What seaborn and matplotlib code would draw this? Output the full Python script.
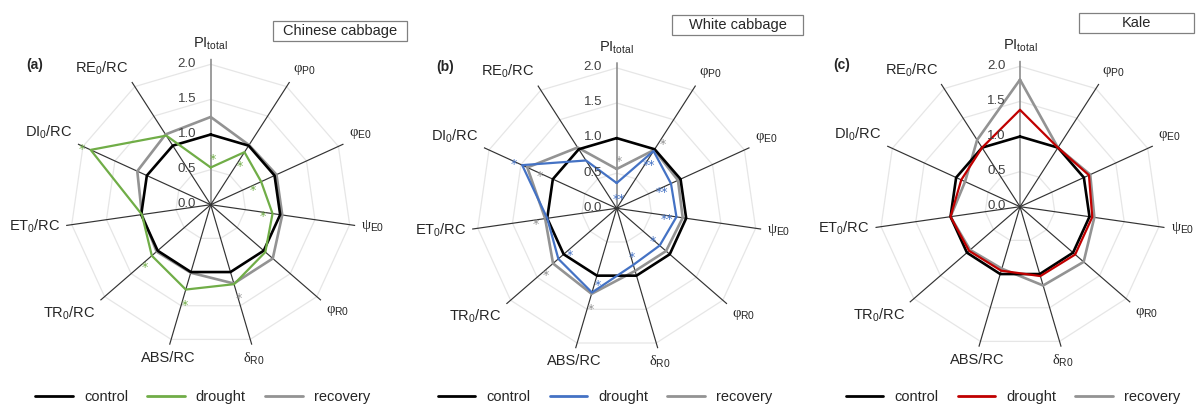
import numpy as np
import pandas as pd
import matplotlib
matplotlib.use("Agg")
import matplotlib.pyplot as plt
from matplotlib.lines import Line2D
from matplotlib.patches import Rectangle
import seaborn as sns

# ---------------------------------------------------------------- data
PARAMS = [r"PI$_{\mathrm{total}}$", r"$\varphi_{\mathrm{P0}}$", r"$\varphi_{\mathrm{E0}}$",
          r"$\psi_{\mathrm{E0}}$", r"$\varphi_{\mathrm{R0}}$", r"$\delta_{\mathrm{R0}}$",
          "ABS/RC", r"TR$_{\mathrm{0}}$/RC", r"ET$_{\mathrm{0}}$/RC",
          r"DI$_{\mathrm{0}}$/RC", r"RE$_{\mathrm{0}}$/RC"]
RADIAL_TICKS = [0.0, 0.5, 1.0, 1.5, 2.0]
SERIES = ["control", "drought", "recovery"]
CROPS = ["Chinese cabbage", "White cabbage", "Kale"]
PANEL_TAGS = ["(a)", "(b)", "(c)"]

control = [1.0, 1.0, 1.0, 1.0, 1.0, 1.0, 1.0, 1.0, 1.0, 1.0, 1.0]

chinese_drought = [0.53, 0.89, 0.79, 0.89, 1.03, 1.18, 1.26, 1.11, 0.99, 1.88, 1.17]
chinese_recovery = [1.25, 1.01, 1.03, 1.03, 1.17, 1.17, 1.01, 1.02, 0.99, 1.15, 1.19]

white_drought = [0.36, 0.97, 0.85, 0.86, 0.81, 0.84, 1.25, 1.10, 1.00, 1.48, 0.81]
white_recovery = [0.56, 0.99, 0.96, 0.95, 0.93, 0.93, 1.27, 1.20, 1.03, 1.40, 1.03]

kale_drought = [1.38, 1.00, 1.08, 1.04, 1.04, 1.03, 0.95, 0.96, 1.00, 0.92, 1.00]
kale_recovery = [1.81, 1.00, 1.10, 1.07, 1.20, 1.17, 0.92, 0.94, 1.00, 0.86, 1.13]

# significance marks: (series, parameter index, mark, +1 outside / -1 inside)
chinese_marks = [("drought", 0, "*", 1), ("drought", 1, "*", -1), ("drought", 2, "*", -1),
                 ("drought", 3, "*", -1), ("drought", 6, "*", 1), ("drought", 7, "*", 1),
                 ("drought", 9, "*", 1), ("recovery", 5, "*", 1)]
white_marks = [("recovery", 0, "*", 1), ("drought", 0, "**", -1), ("recovery", 1, "*", 1),
               ("drought", 1, "**", -1), ("drought", 2, "**", -1), ("drought", 3, "**", -1),
               ("drought", 4, "*", -1), ("drought", 5, "*", -1), ("drought", 9, "*", 1),
               ("recovery", 9, "*", -1), ("recovery", 8, "*", 1), ("drought", 7, "*", -1),
               ("recovery", 7, "*", 1), ("drought", 6, "*", -1), ("recovery", 6, "*", 1)]
kale_marks = []

# ---------------------------------------------------------------- style
sns.set_style("white")
plt.rcParams["font.family"] = ["Liberation Sans", "DejaVu Sans"]
plt.rcParams["mathtext.fontset"] = "custom"
plt.rcParams["mathtext.rm"] = "Liberation Sans"
plt.rcParams["mathtext.it"] = "Liberation Serif"
plt.rcParams["mathtext.bf"] = "Liberation Sans:bold"

DROUGHT_COLORS = ["#70ad47", "#4472c4", "#c00000"]
CONTROL_COLOR = "#000000"
RECOVERY_COLOR = "#939393"
TEXT_COLOR = "#262626"

W, H = 1196, 405
R_PX = 146.0          # pixel radius of the polar area
RMAX = 2.08           # data value at the end of each spoke
CENTERS = [(210.7, 204.7), (616.7, 208.3), (1020.0, 206.7)]
LEGEND_X = [202.5, 605.0, 1013.0]
LEGEND_Y = 397.0
BOXES = [(273.0, 21.5, 134.0, 19.0), (671.7, 15.0, 131.6, 20.0), (1079.3, 12.7, 115.0, 20.0)]
TAG_POS = [(35.0, 65.0), (445.5, 67.5), (841.5, 65.0)]

fig = plt.figure(figsize=(W / 100, H / 100), dpi=100)

n = len(PARAMS)
theta = np.arange(n) * 2 * np.pi / n
theta_closed = np.append(theta, 2 * np.pi)

panels = [
    (chinese_drought, chinese_recovery, chinese_marks),
    (white_drought, white_recovery, white_marks),
    (kale_drought, kale_recovery, kale_marks),
]

for i, (drought, recovery, marks) in enumerate(panels):
    cx, cy = CENTERS[i]
    ax = fig.add_axes([(cx - R_PX) / W, (H - cy - R_PX) / H, 2 * R_PX / W, 2 * R_PX / H],
                      projection="polar")
    ax.set_theta_zero_location("N")
    ax.set_theta_direction(-1)
    ax.patch.set_alpha(0)

    # faint polygonal grid
    for t in RADIAL_TICKS[1:]:
        ax.plot(theta_closed, [t] * (n + 1), color="#e6e6e6", lw=0.9, zorder=1)

    # spokes
    for k, th in enumerate(theta):
        ax.plot([th, th], [0, RMAX], color="#8c8c8c" if k == 0 else "#333333",
                lw=1.2 if k == 0 else 0.85, zorder=2)

    # series
    values = {"control": control, "drought": drought, "recovery": recovery}
    colors = {"control": CONTROL_COLOR, "drought": DROUGHT_COLORS[i], "recovery": RECOVERY_COLOR}
    widths = {"control": 1.9, "drought": 1.6, "recovery": 1.9}
    zorders = {"recovery": 3, "control": 4, "drought": 5}
    for s in ["recovery", "control", "drought"]:
        v = list(values[s])
        df = pd.DataFrame({"theta": theta_closed, "value": v + [v[0]]})
        sns.lineplot(data=df, x="theta", y="value", sort=False, estimator=None,
                     color=colors[s], linewidth=widths[s], ax=ax, zorder=zorders[s])

    ax.set_xlabel("")
    ax.set_ylabel("")
    ax.set_ylim(0, RMAX)
    ax.set_xticks([])
    ax.set_yticks([])
    ax.grid(False)
    ax.spines["polar"].set_visible(False)

    # radial scale labels along the top spoke
    for t in RADIAL_TICKS:
        ax.annotate(f"{t:.1f}", xy=(0, t), xytext=(-10.5, 0.5), textcoords="offset points",
                    ha="right", va="center", fontsize=9.5, color="#404040", zorder=6)

    # parameter labels outside each spoke
    for k, th in enumerate(theta):
        sx, cyv = np.sin(th), np.cos(th)
        ha = "left" if sx > 0.3 else ("right" if sx < -0.3 else "center")
        va = "bottom" if cyv > 0.3 else ("top" if cyv < -0.3 else "center")
        ax.annotate(PARAMS[k], xy=(th, RMAX), xytext=(4.5 * sx, 4.5 * cyv),
                    textcoords="offset points", ha=ha, va=va, fontsize=10.5,
                    color=TEXT_COLOR, annotation_clip=False)

    # significance marks next to their points
    for s, k, mark, side in marks:
        th = theta[k]
        v = values[s][k]
        dx = side * 8.5 * np.sin(th) + 1.5
        dy = side * 8.5 * np.cos(th) - 3.0
        ax.annotate(mark, xy=(th, v), xytext=(dx, dy), textcoords="offset points",
                    ha="center", va="center", fontsize=9, family="DejaVu Sans",
                    color=colors[s], zorder=7)

    # legend under the panel
    handles = [Line2D([], [], color=colors[s], lw=2.0) for s in SERIES]
    ax.legend(handles, SERIES, loc="center",
              bbox_to_anchor=(LEGEND_X[i] / W, (H - LEGEND_Y) / H),
              bbox_transform=fig.transFigure, ncol=3, frameon=False, fontsize=10.5,
              handlelength=2.6, handletextpad=0.75, columnspacing=1.3, borderpad=0)

    # crop name box
    bx, by, bw, bh = BOXES[i]
    fig.add_artist(Rectangle((bx / W, (H - by - bh) / H), bw / W, bh / H,
                             transform=fig.transFigure, facecolor="white",
                             edgecolor="#808080", lw=0.9))
    fig.text((bx + bw / 2) / W, (H - by - bh / 2) / H, CROPS[i], ha="center", va="center",
             fontsize=10.5, color=TEXT_COLOR)

    # panel tag
    tx, ty = TAG_POS[i]
    fig.text(tx / W, (H - ty) / H, PANEL_TAGS[i], ha="center", va="center",
             fontsize=10, fontweight="bold", color=TEXT_COLOR)

fig.savefig("out.png", dpi=100, facecolor="white")
